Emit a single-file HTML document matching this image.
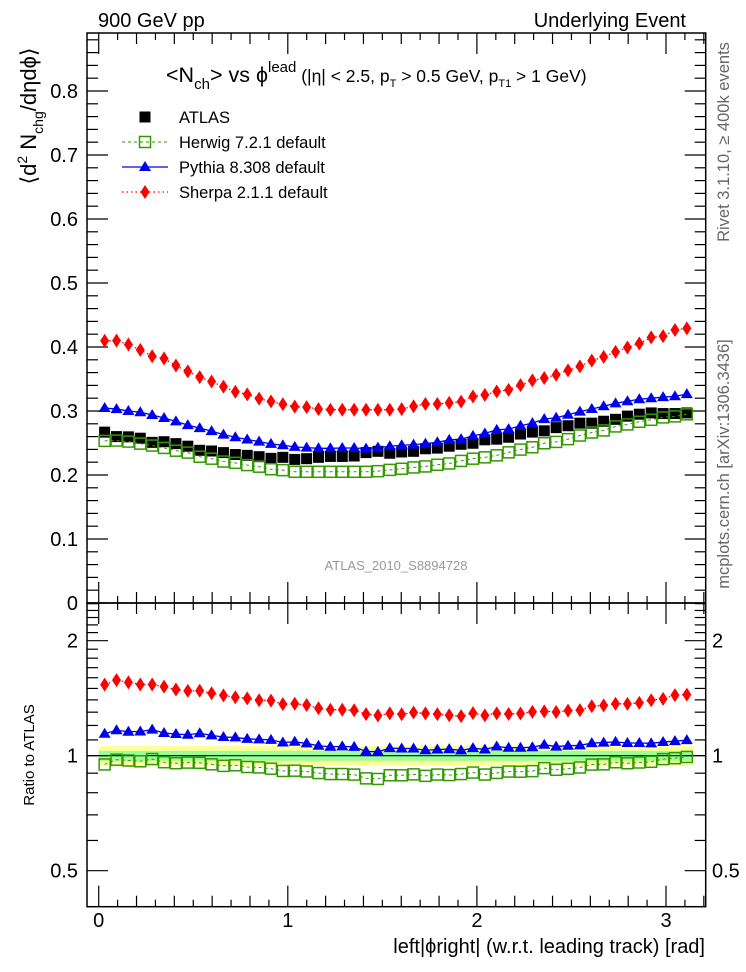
<!DOCTYPE html>
<html><head><meta charset="utf-8">
<style>
html,body{margin:0;padding:0;background:#fff;}
svg{display:block;font-family:"Liberation Sans",Arial,sans-serif;}
</style></head>
<body>
<svg id="chart" width="746" height="972" viewBox="0 0 746 972" xmlns="http://www.w3.org/2000/svg">
<rect width="746" height="972" fill="#fff"/>
<text x="98" y="27" font-size="20">900 GeV pp</text>
<text x="686" y="27" font-size="20" text-anchor="end">Underlying Event</text>
<text x="166" y="82" font-size="21.5">&lt;N<tspan font-size="15" dy="7">ch</tspan><tspan dy="-7">&gt; vs ϕ</tspan><tspan font-size="15" dy="-10">lead</tspan><tspan font-size="17.5" dy="10"> (|η| &lt; 2.5, p</tspan><tspan font-size="11" dy="5">T</tspan><tspan font-size="17.5" dy="-5"> &gt; 0.5 GeV, p</tspan><tspan font-size="11" dy="5">T1</tspan><tspan font-size="17.5" dy="-5"> &gt; 1 GeV)</tspan></text>
<text transform="translate(36,116) rotate(-90)" font-size="22" text-anchor="middle">⟨d<tspan font-size="14" dy="-9">2</tspan><tspan dy="9"> N</tspan><tspan font-size="14" dy="7">chg</tspan><tspan dy="-7">/dηdϕ⟩</tspan></text>
<text transform="translate(34,755) rotate(-90)" font-size="15" text-anchor="middle">Ratio to ATLAS</text>
<text transform="translate(729,142) rotate(-90)" font-size="16.5" fill="#666" text-anchor="middle">Rivet 3.1.10, ≥ 400k events</text>
<text transform="translate(729,464) rotate(-90)" font-size="16.5" fill="#666" text-anchor="middle">mcplots.cern.ch [arXiv:1306.3436]</text>
<text x="396" y="570" font-size="13" fill="#999" text-anchor="middle">ATLAS_2010_S8894728</text>
<text x="705" y="953" font-size="20" text-anchor="end">left|ϕright| (w.r.t. leading track) [rad]</text>
<g id="bands"></g>
<g id="axes"></g>
<g id="marks"></g>
<g id="legend"></g>
</svg>
<script>
const atlas=[0.267,0.260,0.2596,0.2575,0.251,0.252,0.249,0.245,0.2386,0.2375,0.235,0.232,0.2307,0.2286,0.226,0.2276,0.2244,0.2255,0.2276,0.229,0.229,0.2297,0.235,0.237,0.234,0.236,0.237,0.241,0.242,0.245,0.248,0.2496,0.255,0.256,0.259,0.264,0.267,0.269,0.274,0.277,0.281,0.281,0.284,0.287,0.292,0.295,0.297,0.296,0.296,0.297];
const herwig=[0.2533,0.2538,0.2522,0.249,0.246,0.2423,0.238,0.235,0.2286,0.2255,0.221,0.219,0.2155,0.213,0.209,0.2076,0.205,0.205,0.205,0.205,0.205,0.205,0.205,0.206,0.208,0.2097,0.2118,0.2134,0.216,0.218,0.222,0.2255,0.2276,0.2307,0.2354,0.2397,0.2433,0.2496,0.2517,0.256,0.2617,0.2664,0.2696,0.2759,0.279,0.2832,0.2863,0.29,0.2916,0.2948];
const pythia=[0.3047,0.303,0.300,0.298,0.2937,0.289,0.2837,0.278,0.2732,0.2685,0.263,0.259,0.2554,0.2522,0.2486,0.2465,0.244,0.2428,0.2417,0.2417,0.2422,0.2422,0.2412,0.2428,0.2449,0.2465,0.2475,0.249,0.2512,0.2549,0.256,0.2612,0.2648,0.2706,0.2717,0.277,0.281,0.2874,0.2895,0.2942,0.299,0.3032,0.3074,0.312,0.3153,0.3184,0.32,0.3216,0.3231,0.3263];
const sherpa=[0.4097,0.410,0.404,0.3955,0.3855,0.382,0.371,0.362,0.353,0.346,0.338,0.330,0.326,0.3194,0.315,0.3105,0.3068,0.306,0.303,0.302,0.302,0.302,0.302,0.302,0.302,0.303,0.3074,0.311,0.311,0.3126,0.3147,0.3226,0.3252,0.3304,0.333,0.3404,0.3478,0.3515,0.3567,0.3635,0.3698,0.3787,0.3845,0.3924,0.3992,0.4055,0.415,0.417,0.4265,0.4291];
const mainTicks=[0,0.1,0.2,0.3,0.4,0.5,0.6,0.7,0.8];
const ratioTicks=[0.5,1,2];
const xTicks=[0,1,2,3];
const bandInner=0.03, bandOuter=0.06;

const NS="http://www.w3.org/2000/svg";
const L=87,R=705.7,T=33,MB=603,RB=906.7;
const X=v=>98.7+189.1*v;
const Y=v=>603-640*v;
const YR=r=>755.7-115*Math.log2(r);
function mk(tag,attrs,parent){const e=document.createElementNS(NS,tag);for(const k in attrs)e.setAttribute(k,attrs[k]);parent.appendChild(e);return e;}
const axes=document.getElementById('axes'),marks=document.getElementById('marks'),bands=document.getElementById('bands'),legend=document.getElementById('legend');
const n=atlas.length,w=Math.PI/n;
const cx=i=>X((i+0.5)*w);

let e=mk('rect',{x:X(0),y:YR(1+bandOuter),width:X(Math.PI)-X(0),height:YR(1-bandOuter)-YR(1+bandOuter),fill:'#ffff99'},bands);


e=mk('rect',{x:X(0),y:YR(1+bandInner),width:X(Math.PI)-X(0),height:YR(1-bandInner)-YR(1+bandInner),fill:'#99ff99'},bands);


mk('line',{x1:L,x2:R,y1:YR(1),y2:YR(1),stroke:'#000','stroke-width':1.2},bands);

e=mk('rect',{x:L,y:T,width:R-L,height:MB-T,fill:'none',stroke:'#000','stroke-width':1.5},axes);


e=mk('rect',{x:L,y:MB,width:R-L,height:RB-MB,fill:'none',stroke:'#000','stroke-width':1.5},axes);


for(let k=0;k<=44;k++){const v=k*0.02;const y=Y(v);if(y<T)break;const len=k%5==0?21:11;
 mk('line',{x1:L,x2:L+len,y1:y,y2:y,stroke:'#000','stroke-width':1.2},axes);
 mk('line',{x1:R,x2:R-len,y1:y,y2:y,stroke:'#000','stroke-width':1.2},axes);}
mainTicks.forEach(v=>{const t=mk('text',{x:78,y:Y(v)+7,'font-size':20,'text-anchor':'end'},axes);t.textContent=v===0?'0':v.toFixed(1);
 
 });
for(let k=4;k<=25;k++){const r=k/10;const y=YR(r);if(y<MB||y>RB)continue;const major=ratioTicks.includes(r);const len=major?21:11;
 mk('line',{x1:L,x2:L+len,y1:y,y2:y,stroke:'#000','stroke-width':1.2},axes);
 mk('line',{x1:R,x2:R-len,y1:y,y2:y,stroke:'#000','stroke-width':1.2},axes);}
ratioTicks.forEach(r=>{const lab=String(r);
 let t=mk('text',{x:78,y:YR(r)+7,'font-size':20,'text-anchor':'end'},axes);t.textContent=lab;
 
 
 t=mk('text',{x:712,y:YR(r)+7,'font-size':20},axes);t.textContent=lab;
 
 });
for(let k=0;k<=32;k++){const v=k*0.1;const x=X(v);if(x>R)break;const len=k%10==0?21:(k%2==0?11:7);
 [[T,1],[MB,-1],[MB,1],[RB,-1]].forEach(([y0,d])=>mk('line',{x1:x,x2:x,y1:y0,y2:y0+d*len,stroke:'#000','stroke-width':1.2},axes));}
xTicks.forEach(v=>{const t=mk('text',{x:X(v),y:927,'font-size':20,'text-anchor':'middle'},axes);t.textContent=v;
 
 });

function square(g,x,y){return mk('rect',{x:x-5.5,y:y-5.5,width:11,height:11,fill:'#000'},g);}
function openSq(g,x,y){return mk('rect',{x:x-5.5,y:y-5.5,width:11,height:11,fill:'none',stroke:'#339900','stroke-width':1.5},g);}
function tri(g,x,y){return mk('polygon',{points:`${x},${y-6} ${x-6},${y+4} ${x+6},${y+4}`,fill:'#0000ee'},g);}
function diam(g,x,y){return mk('polygon',{points:`${x},${y-7} ${x-4.5},${y} ${x},${y+7} ${x+4.5},${y}`,fill:'#ff0000'},g);}
function series(name,vals,fy,draw,lineStyle){
 const g=mk('g',{},marks);
 
 
 if(lineStyle){const pts=vals.map((v,i)=>`${cx(i)},${fy(v,i)}`).join(' ');mk('polyline',Object.assign({points:pts,fill:'none'},lineStyle),g);}
 vals.forEach((v,i)=>{const m=draw(g,cx(i),fy(v,i));
  
  });
}
const hStyle={stroke:'#339900','stroke-width':1,'stroke-dasharray':'3,3'};
const pStyle={stroke:'#0000ee','stroke-width':1.3};
const sStyle={stroke:'#ff0000','stroke-width':1.3,'stroke-dasharray':'1.5,3'};
series('atlas-series',atlas,v=>Y(v),square,null);
series('herwig-series',herwig,v=>Y(v),openSq,hStyle);
series('pythia-series',pythia,v=>Y(v),tri,pStyle);
series('sherpa-series',sherpa,v=>Y(v),diam,sStyle);
series('herwig-ratio',herwig,(v,i)=>YR(v/atlas[i]),openSq,hStyle);
series('pythia-ratio',pythia,(v,i)=>YR(v/atlas[i]),tri,pStyle);
series('sherpa-ratio',sherpa,(v,i)=>YR(v/atlas[i]),diam,sStyle);

const entries=[['ATLAS',square,null,'legend-atlas'],['Herwig 7.2.1 default',openSq,hStyle,'legend-herwig'],['Pythia 8.308 default',tri,pStyle,'legend-pythia'],['Sherpa 2.1.1 default',diam,sStyle,'legend-sherpa']];
entries.forEach(([lab,fn,st,nm],k)=>{const y=117+25*k;const g=mk('g',{},legend);
 
 
 if(st)mk('line',Object.assign({x1:122,x2:168,y1:y,y2:y},st),g);
 fn(g,145,y);
 const t=mk('text',{x:179,y:y+6,'font-size':16.5},g);t.textContent=lab;});
</script>
</body></html>
